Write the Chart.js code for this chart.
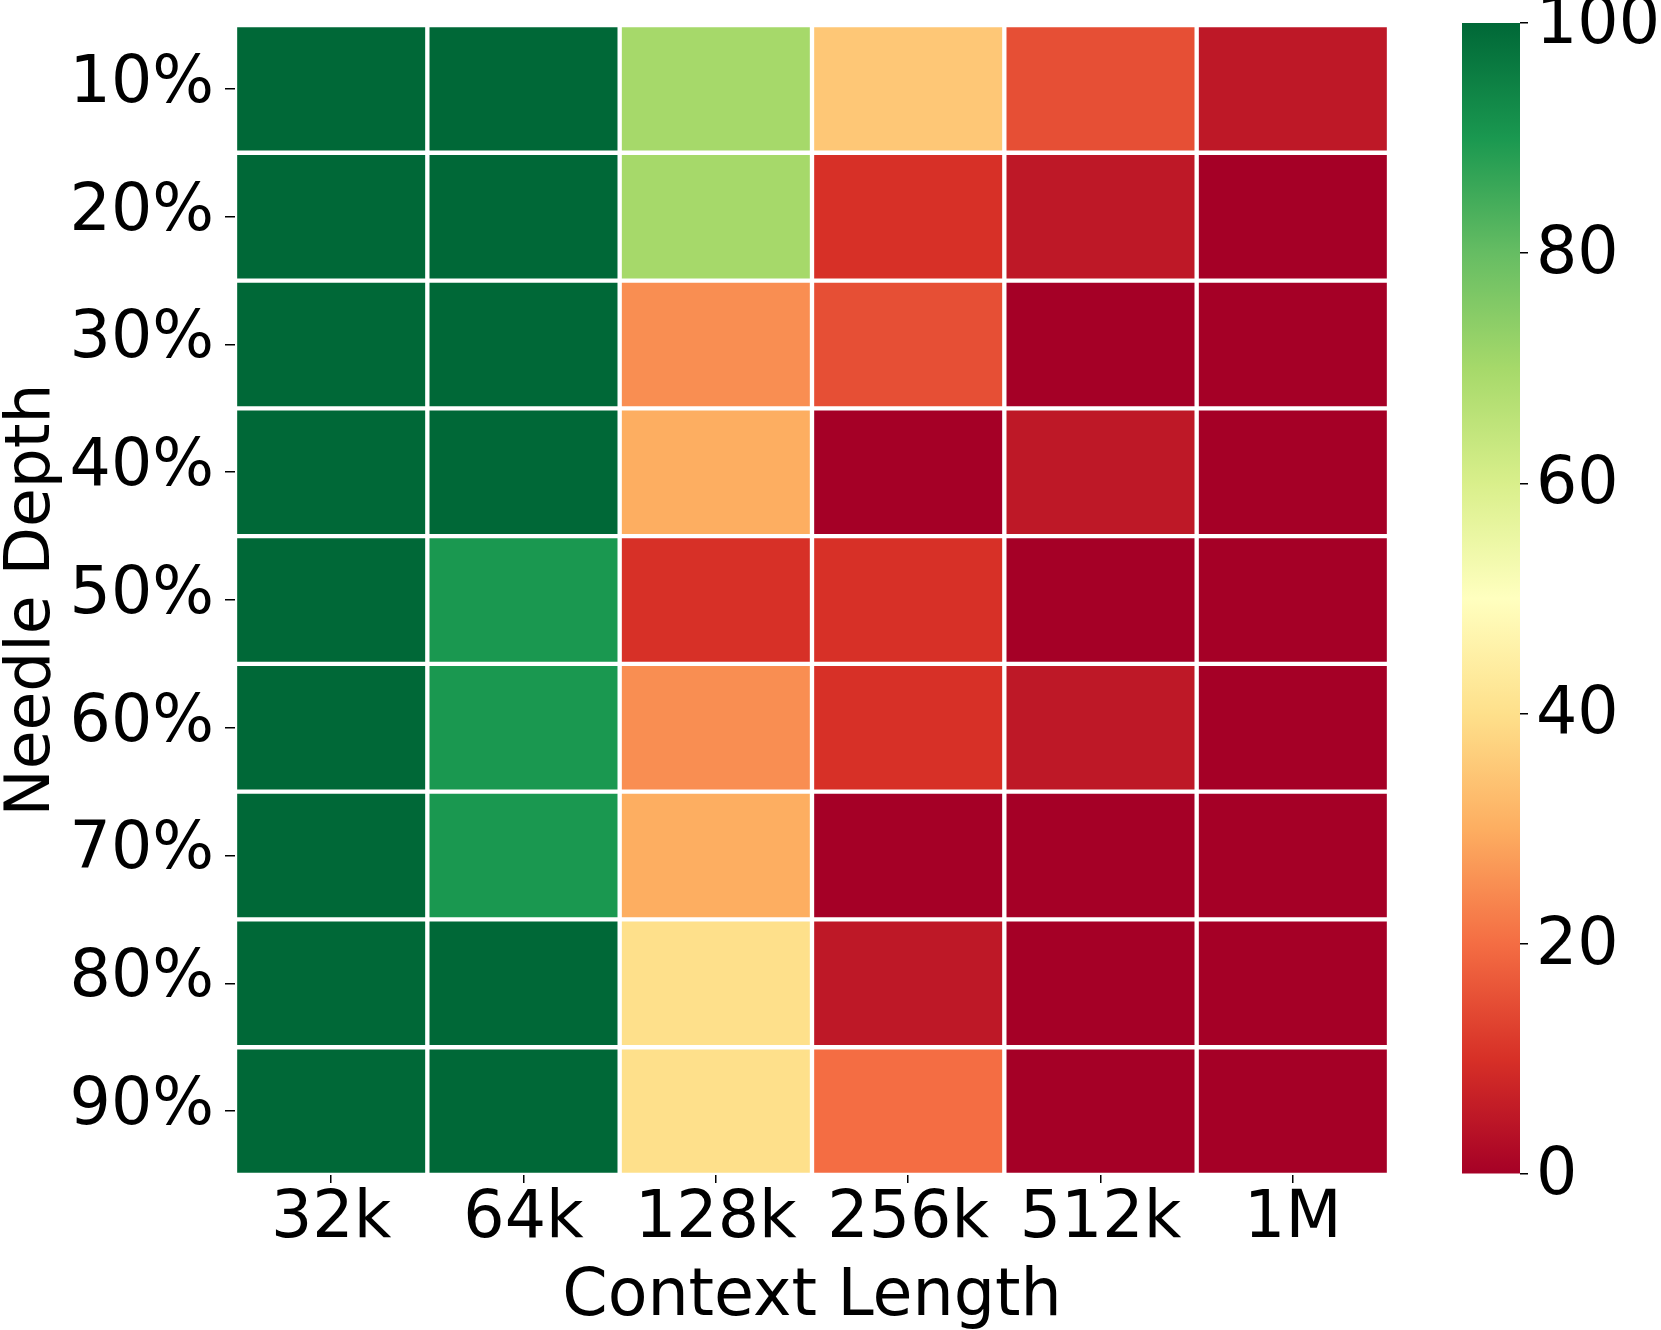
<!DOCTYPE html>
<html>
<head>
<meta charset="utf-8">
<script src="https://cdn.jsdelivr.net/npm/chart.js@4.4.1/dist/chart.umd.min.js"></script>
<style>
  html, body { margin: 0; padding: 0; background: #fff; }
  #wrap { position: relative; width: 1661px; height: 1330px; overflow: hidden; }
  #heat { position: absolute; left: 0; top: 0; }
  #cbar { position: absolute; left: 1400px; top: 0; }
</style>
</head>
<body>
<div id="wrap">
  <canvas id="heat" width="1661" height="1330"></canvas>
  <canvas id="cbar" width="261" height="1330"></canvas>
</div>
<script>
// data
const contextLengths = ['32k', '64k', '128k', '256k', '512k', '1M'];
const depthLabels = ['10%', '20%', '30%', '40%', '50%', '60%', '70%', '80%', '90%'];

const depth10 = [100, 100, 70, 35, 15, 5];
const depth20 = [100, 100, 70, 10, 5, 0];
const depth30 = [100, 100, 25, 15, 0, 0];
const depth40 = [100, 100, 30, 0, 5, 0];
const depth50 = [100, 90, 10, 10, 0, 0];
const depth60 = [100, 90, 25, 10, 5, 0];
const depth70 = [100, 90, 30, 0, 0, 0];
const depth80 = [100, 100, 40, 5, 0, 0];
const depth90 = [100, 100, 40, 20, 0, 0];
const scoreRows = [depth10, depth20, depth30, depth40, depth50, depth60, depth70, depth80, depth90];

const colorbarTicks = [0, 20, 40, 60, 80, 100];

// matplotlib RdYlGn
const rdylgn = ['#a50026', '#d73027', '#f46d43', '#fdae61', '#fee08b', '#ffffbf',
                '#d9ef8b', '#a6d96a', '#66bd63', '#1a9850', '#006837'];

function hexToRgb(h) {
  return [parseInt(h.slice(1, 3), 16), parseInt(h.slice(3, 5), 16), parseInt(h.slice(5, 7), 16)];
}

function scoreColor(v) {
  const t = Math.max(0, Math.min(1, v / 100)) * (rdylgn.length - 1);
  const i = Math.min(Math.floor(t), rdylgn.length - 2);
  const f = t - i;
  const a = hexToRgb(rdylgn[i]), b = hexToRgb(rdylgn[i + 1]);
  const c = a.map((x, k) => Math.round(x + (b[k] - x) * f));
  return `rgb(${c[0]}, ${c[1]}, ${c[2]})`;
}

const FONT = { family: 'DejaVu Sans', size: 65 };
const YTITLE_FONT = { family: 'DejaVu Sans', size: 63 };
Chart.defaults.font.family = 'DejaVu Sans';
Chart.defaults.color = '#000';

// no extra room for half-labels at the ends of the vertical axes
function noEndPadding(s) {
  s.paddingTop = 0;
  s.paddingBottom = 0;
}

// heatmap: one dataset per depth row, floating bars spanning [row, row + 1]
const datasets = scoreRows.map((row, r) => ({
  data: contextLengths.map(() => [r, r + 1]),
  backgroundColor: row.map(scoreColor),
  borderColor: '#fff',
  borderWidth: 2.5,
  borderSkipped: false,
  grouped: false,
  barPercentage: 1,
  categoryPercentage: 1
}));

new Chart(document.getElementById('heat'), {
  type: 'bar',
  data: { labels: contextLengths, datasets },
  options: {
    responsive: false,
    animation: false,
    devicePixelRatio: 1,
    layout: { padding: { left: 0, top: 25, right: 272, bottom: 0 } },
    plugins: { legend: { display: false }, tooltip: { enabled: false } },
    scales: {
      x: {
        grid: { display: true, offset: false, drawOnChartArea: false, tickLength: 8, color: '#000', lineWidth: 1.5 },
        border: { display: false },
        ticks: { font: FONT, padding: -2, maxRotation: 0 },
        title: { display: true, text: 'Context Length', font: FONT, padding: { top: 0, bottom: -7 } },
        afterFit: s => { s.height = 155; }
      },
      y: {
        type: 'linear',
        min: 0,
        max: 9,
        reverse: true,
        grid: { display: true, drawOnChartArea: false, tickLength: 10, color: '#000', lineWidth: 1.5 },
        border: { display: false },
        afterBuildTicks: s => { s.ticks = depthLabels.map((_, i) => ({ value: i + 0.5 })); },
        ticks: { font: FONT, padding: 11, labelOffset: -4, callback: (v, i) => depthLabels[i] },
        title: { display: true, text: 'Needle Depth', font: YTITLE_FONT, padding: { top: -5, bottom: 0 } },
        afterFit: s => { s.width = 235; noEndPadding(s); }
      }
    }
  }
});

// colorbar
new Chart(document.getElementById('cbar'), {
  type: 'bar',
  data: {
    labels: ['score'],
    datasets: [{
      data: [[0, 100]],
      barPercentage: 1,
      categoryPercentage: 1,
      borderWidth: 0,
      backgroundColor: ctx => {
        const ca = ctx.chart.chartArea;
        if (!ca) return '#ffffbf';
        const g = ctx.chart.ctx.createLinearGradient(0, ca.bottom, 0, ca.top);
        rdylgn.forEach((c, i) => g.addColorStop(i / (rdylgn.length - 1), c));
        return g;
      }
    }]
  },
  options: {
    responsive: false,
    animation: false,
    devicePixelRatio: 1,
    layout: { padding: { left: 62, top: 23, right: 0, bottom: 156 } },
    plugins: { legend: { display: false }, tooltip: { enabled: false } },
    scales: {
      x: { display: false },
      y: {
        position: 'right',
        min: 0,
        max: 100,
        grid: { display: true, drawOnChartArea: false, tickLength: 8, color: '#000', lineWidth: 1.5 },
        border: { display: false },
        afterBuildTicks: s => { s.ticks = colorbarTicks.map(v => ({ value: v })); },
        ticks: { font: FONT, padding: 8, labelOffset: 3 },
        afterFit: s => { s.width = 141; noEndPadding(s); }
      }
    }
  }
});
</script>
</body>
</html>
